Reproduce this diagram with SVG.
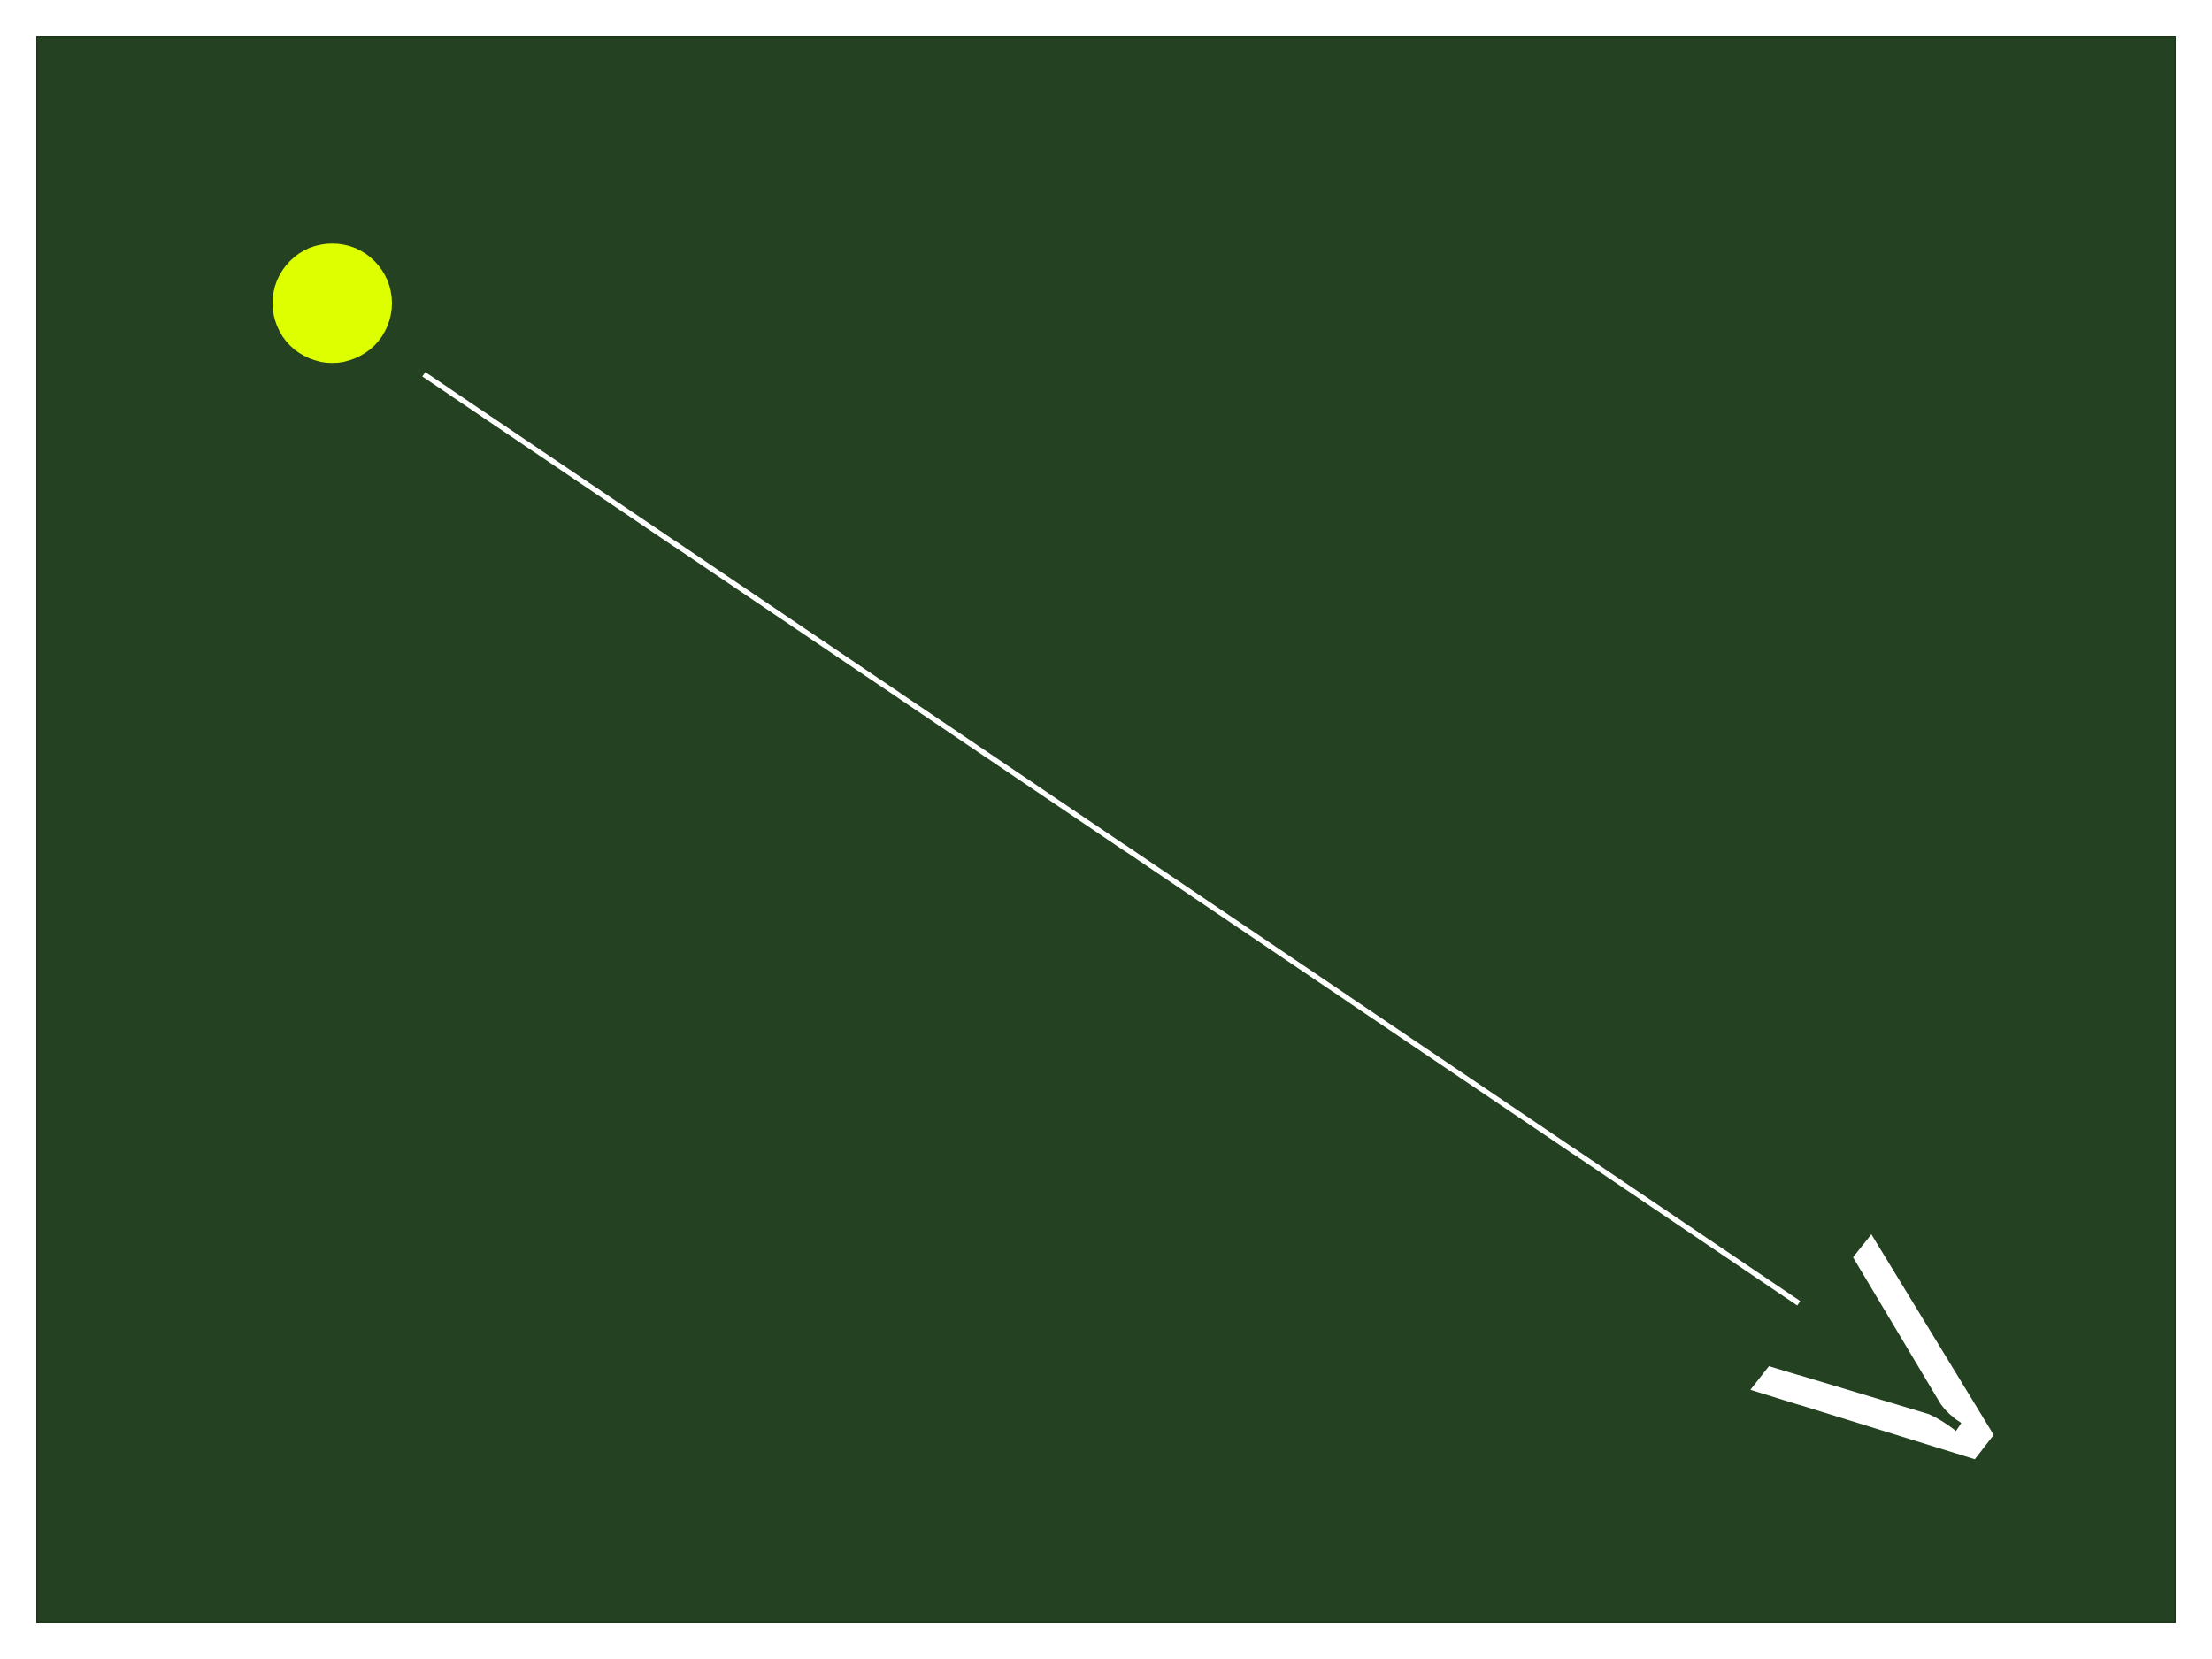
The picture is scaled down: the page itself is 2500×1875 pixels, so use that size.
<svg xmlns="http://www.w3.org/2000/svg" width="2500" height="1875" viewBox="0 0 2500 1875">
<style>
.bg{fill:#244221;stroke:#1e3a1b;stroke-width:2}
.node{fill:#ddff00}
.edge{stroke:#ffffff;stroke-width:6;fill:none}
.head{fill:#ffffff}
</style>
<rect x="0" y="0" width="2500" height="1875" fill="#ffffff"/>
<rect class="bg" x="42" y="42" width="2416" height="1791"/>
<g id="node-dot">
<circle class="node" cx="375.5" cy="342.7" r="67.5"/>
</g>
<g id="connectors">
<line class="edge" x1="479" y1="423" x2="2033" y2="1473"/>
<path class="head" d="M2115,1395 L2094.3,1421 L2193.3,1586.7 Q2202,1599 2216.7,1608.3 L2210.7,1617.3 Q2195,1605 2180,1598.3 L1999.3,1544 L1978.3,1570.7 L2232,1649.3 L2253.3,1621.7 Z"/>
</g>
</svg>
